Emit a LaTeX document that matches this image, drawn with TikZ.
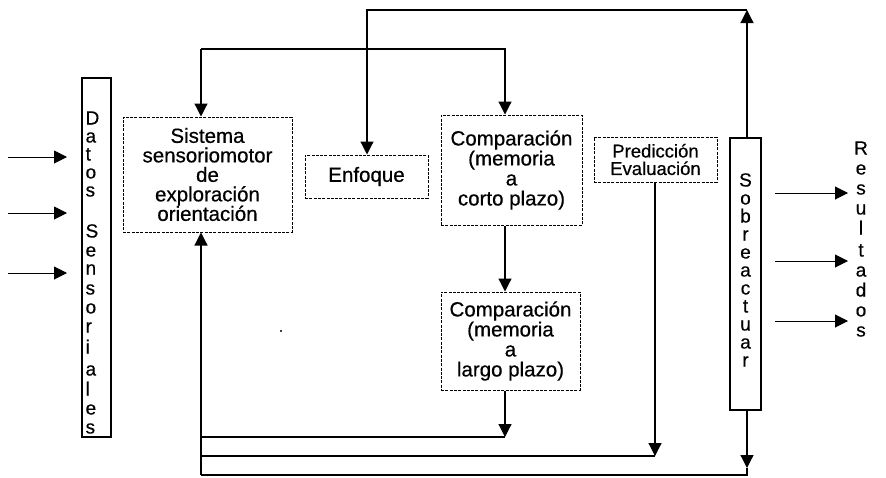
\documentclass[tikz,border=0pt]{standalone}
\usepackage{fontspec}
\setmainfont[FakeBold=0.5]{Liberation Sans}
\usetikzlibrary{arrows.meta}
\begin{document}
\begin{tikzpicture}[x=1pt,y=-1pt,line width=1.2pt,
  arr/.style={-{Triangle[length=13pt,width=13pt]}},
  dbox/.style={draw,dash pattern=on 3pt off 1.3pt,line width=1pt,inner sep=0pt,align=center},
  sbox/.style={draw,line width=1.3pt,inner sep=0pt},
  letter/.style={font=\fontsize{19}{19}\selectfont,inner sep=0pt},
  thin arrow/.style={arr,line width=1pt}]
\useasboundingbox (0,0) rectangle (886,477);

% boxes
\node[sbox,minimum width=29pt,minimum height=359pt] (datos) at (96.5,257.5) {};
\node[dbox,minimum width=169pt,minimum height=115pt,font=\fontsize{20.5}{19.5}\selectfont] (sistema) at (207.5,174.5)
  {Sistema\\sensoriomotor\\de\\exploración\\orientación};
\node[dbox,minimum width=123pt,minimum height=43pt,font=\fontsize{20.5}{19}\selectfont] (enfoque) at (366.5,176.5) {Enfoque};
\node[dbox,minimum width=141pt,minimum height=110pt,font=\fontsize{20.5}{20}\selectfont] (corto) at (511.5,170)
  {Comparación\\(memoria\\a\\corto plazo)};
\node[dbox,minimum width=123pt,minimum height=45pt,font=\fontsize{18.5}{17.5}\selectfont] (pred) at (655.5,159.5)
  {Predicción\\Evaluación};
\node[sbox,minimum width=31pt,minimum height=272pt] (sobre) at (745.5,274) {};
\node[dbox,minimum width=139pt,minimum height=98pt,font=\fontsize{20.5}{20}\selectfont] (largo) at (510.5,341)
  {Comparación\\(memoria\\a\\largo plazo)};

% vertical letters
\foreach \t/\yy [count=\i] in {D/118,a/136,t/154,o/172,s/190,S/231,e/250,n/268,s/288,o/307,r/326,i/347,a/369,l/389,e/408,s/427}
  \node[letter,anchor=base west] (ds\i) at (85,{\yy+6.5}) {\t};
\foreach \t/\yy [count=\i] in {S/180,o/198,b/216,r/234,e/252,a/270,c/288,t/306,u/324,a/342,r/360}
  \node[letter,anchor=base] (so\i) at (745.5,{\yy+6.5}) {\t};
\foreach \t/\yy [count=\i] in {R/148,e/168,s/188,u/208,l/228,t/250,a/270,d/290,o/310,s/330}
  \node[letter,anchor=base] (re\i) at (861,{\yy+6.5}) {\t};

% named coordinates
\coordinate (c200) at (201,0);
\coordinate (c367) at (367,0);
\coordinate (c505) at (505,0);
\coordinate (c655) at (655,0);
\coordinate (c747) at (747,0);
\coordinate (r10) at (0,10);
\coordinate (r49) at (0,49);
\coordinate (r437) at (0,437);
\coordinate (r456) at (0,456);
\coordinate (r468) at (0,468);
\coordinate (r475) at (0,475);

% input arrows
\foreach \yy [count=\i] in {157,213,273}{
  \coordinate (in\i a) at (8,\yy);
  \coordinate (in\i b) at (67,\yy);
  \draw[thin arrow] (in\i a) -- (in\i b);
}
% output arrows
\foreach \yy [count=\i] in {193,261,321}{
  \coordinate (out\i a) at (775,\yy);
  \coordinate (out\i b) at (848,\yy);
  \draw[thin arrow] (out\i a) -- (out\i b);
}

% top loops
\draw[arr] (sobre.north -| c747) -- (c747 |- r10);
\draw[arr] (c747 |- r10) -- (c367 |- r10) -- (enfoque.north -| c367);
\draw[arr] (c200 |- r49) -- (sistema.north -| c200);
\draw[arr] (c200 |- r49) -- (c505 |- r49) -- (corto.north -| c505);

% middle
\draw[arr] (corto.south -| c505) -- (largo.north -| c505);
\draw[arr] (largo.south -| c505) -- (c505 |- r437);
\draw (c505 |- r437) -- (c200 |- r437);
\draw[arr] (pred.south -| c655) -- (c655 |- r456);
\draw (c655 |- r456) -- (c200 |- r456);

% bottom return
\draw[arr] (sobre.south -| c747) -- (c747 |- r468);
\draw (c747 |- r468) -- (c747 |- r475) -- (c200 |- r475);
\draw[arr] (c200 |- r475) -- (sistema.south -| c200);

% stray dot
\fill (281,331) circle (1.2pt);
\end{tikzpicture}
\end{document}
